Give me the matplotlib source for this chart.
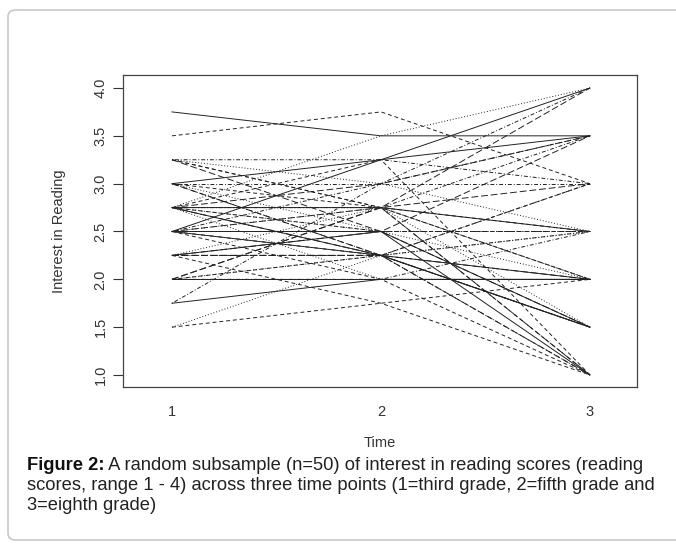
import matplotlib.pyplot as plt
from matplotlib.patches import FancyBboxPatch

plt.rcParams['font.family'] = ['Liberation Sans', 'DejaVu Sans']

# Scores at the three time points (one entry per child, n=50)
time_points = [1, 2, 3]
score_t1 = [3.75, 3.5, 2.75, 1.75, 2.0, 2.5, 3.25, 3.25, 3.25, 3.25,
            3.0, 3.0, 3.0, 3.0, 3.0, 2.75, 2.75, 2.75, 2.75, 2.75,
            2.75, 2.75, 2.75, 2.5, 2.5, 2.5, 2.5, 2.5, 2.5, 2.25,
            2.25, 2.25, 2.25, 2.25, 2.25, 2.0, 2.0, 2.0, 2.0, 2.0,
            1.75, 1.5, 1.5, 3.0, 2.75, 2.5, 3.25, 2.75, 2.5, 2.25]
score_t2 = [3.5, 3.75, 3.5, 3.0, 2.75, 3.25, 2.75, 3.0, 3.25, 2.5,
            3.25, 2.75, 2.5, 3.0, 2.25, 2.75, 3.25, 2.5, 2.75, 3.0,
            2.25, 2.5, 2.75, 2.5, 2.75, 2.25, 2.0, 2.75, 2.25, 2.25,
            2.5, 1.75, 2.75, 2.25, 2.5, 2.0, 2.25, 2.25, 2.0, 2.75,
            2.0, 1.75, 2.25, 2.25, 2.25, 2.5, 2.75, 2.0, 3.0, 2.25]
score_t3 = [3.5, 3.0, 4.0, 4.0, 4.0, 4.0, 2.0, 2.5, 3.0, 1.5,
            3.5, 1.0, 2.5, 3.0, 1.5, 2.5, 1.0, 2.0, 3.5, 3.5,
            1.5, 2.5, 1.5, 2.5, 3.0, 2.0, 1.0, 2.0, 3.0, 2.0,
            1.0, 1.0, 2.0, 2.5, 3.5, 2.0, 3.0, 1.5, 2.5, 1.0,
            2.0, 2.0, 2.5, 1.0, 1.5, 1.5, 2.5, 2.0, 3.5, 1.0]

# R matplot style cycle: solid, dashed, dotted, dotdash, longdash
line_styles = ['-', (0, (4, 3)), (0, (1, 2)), (0, (1, 2, 4, 2)), (0, (7, 3))]

fig = plt.figure(figsize=(6.76, 5.5), dpi=100)

# cadre arrondi autour de la figure
cadre = FancyBboxPatch((8 / 676, 10 / 550), 1.2, 530 / 550,
                       boxstyle='round,pad=0,rounding_size=0.012',
                       transform=fig.transFigure, fill=False,
                       edgecolor='#c8c8c8', linewidth=1.2)
fig.patches.append(cadre)

ax = fig.add_axes([123 / 676, 1 - 387 / 550, 514 / 676, 312 / 550])

for i in range(len(score_t1)):
    ax.plot(time_points, [score_t1[i], score_t2[i], score_t3[i]],
            color='#222222', linewidth=0.7,
            linestyle=line_styles[i % len(line_styles)])

ax.set_xlim(1 - 49 / 209, 3 + 47 / 209)
ax.set_ylim(1 - 12 / 95.7, 4 + 13 / 95.7)

ax.set_yticks([1.0, 1.5, 2.0, 2.5, 3.0, 3.5, 4.0])
ax.set_yticklabels(['1.0', '1.5', '2.0', '2.5', '3.0', '3.5', '4.0'],
                   rotation=90, va='center')
ax.set_xticks(time_points)
ax.set_xticklabels(['1', '2', '3'])
ax.tick_params(axis='y', length=7, width=0.8, labelsize=10.5, pad=4,
               color='#333333', labelcolor='#333333')
ax.tick_params(axis='x', length=0, labelsize=10.5, pad=13, labelcolor='#333333')
for spine in ax.spines.values():
    spine.set_color('#444444')
    spine.set_linewidth(0.9)

ax.set_ylabel('Interest in Reading', fontsize=10.5, labelpad=20, color='#333333')
ax.set_xlabel('Time', fontsize=10.5, labelpad=12, color='#333333')

# légende de la figure
titre = fig.text(27 / 676, 1 - 470 / 550, 'Figure 2:', fontsize=13.2,
                 fontweight='bold', va='baseline', ha='left', color='#111111')
plt.annotate(' A random subsample (n=50) of interest in reading scores (reading',
             xy=(1, 0), xycoords=titre, va='bottom', ha='left',
             fontsize=13.2, color='#222222', annotation_clip=False)
fig.text(27 / 676, 1 - 490 / 550,
         'scores, range 1 - 4) across three time points (1=third grade, 2=fifth grade and',
         fontsize=13.2, va='baseline', ha='left', color='#222222')
fig.text(27 / 676, 1 - 510 / 550,
         '3=eighth grade)', fontsize=13.2, va='baseline', ha='left', color='#222222')

fig.savefig('out.png', dpi=100)
